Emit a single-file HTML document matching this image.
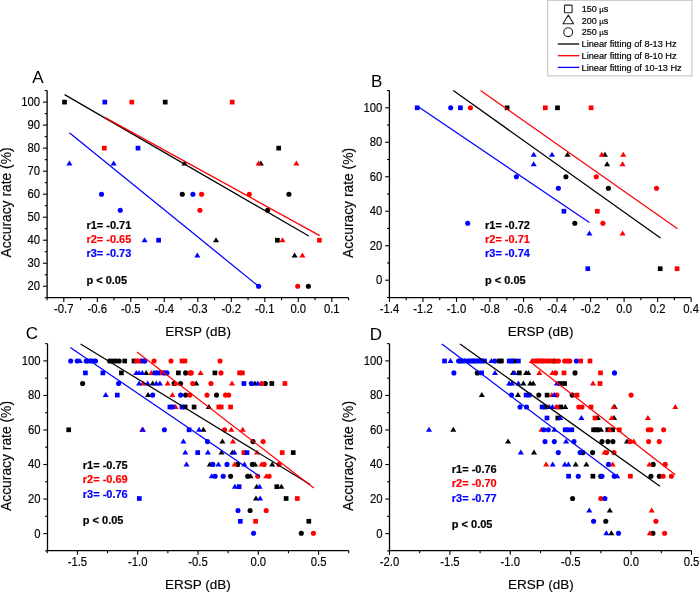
<!DOCTYPE html>
<html><head><meta charset="utf-8"><style>
html,body{margin:0;padding:0;background:#fff;}
svg{display:block;will-change:transform;}
text{font-family:"Liberation Sans", sans-serif;}
.t{font-size:11.6px;fill:#000;stroke:#000;stroke-width:0.15px;}
.L{font-size:17px;fill:#000;}
.T{font-size:13.85px;fill:#000;stroke:#000;stroke-width:0.15px;}
.S{font-size:11px;font-weight:bold;stroke-width:0.2px;}
.G{font-size:9.2px;fill:#000;stroke:#000;stroke-width:0.2px;}
</style></head><body>
<svg width="700" height="592" viewBox="0 0 700 592">
<rect width="700" height="592" fill="#fff"/>
<rect x="62.15" y="99.75" width="4.7" height="4.7" fill="#000"/>
<rect x="162.85" y="99.75" width="4.7" height="4.7" fill="#000"/>
<rect x="276.35" y="145.79" width="4.7" height="4.7" fill="#000"/>
<path d="M184.50 160.49L187.55 165.49H181.45Z" fill="#000"/>
<path d="M260.80 160.49L263.85 165.49H257.75Z" fill="#000"/>
<circle cx="182.30" cy="194.18" r="2.55" fill="#000"/>
<circle cx="288.90" cy="194.18" r="2.55" fill="#000"/>
<circle cx="267.60" cy="210.29" r="2.55" fill="#000"/>
<path d="M216.00 237.22L219.05 242.22H212.95Z" fill="#000"/>
<rect x="275.05" y="237.87" width="4.7" height="4.7" fill="#000"/>
<path d="M294.60 252.57L297.65 257.57H291.55Z" fill="#000"/>
<circle cx="308.40" cy="286.26" r="2.55" fill="#000"/>
<rect x="129.45" y="99.75" width="4.7" height="4.7" fill="#f00"/>
<rect x="229.85" y="99.75" width="4.7" height="4.7" fill="#f00"/>
<rect x="101.95" y="145.79" width="4.7" height="4.7" fill="#f00"/>
<path d="M258.60 160.49L261.65 165.49H255.55Z" fill="#f00"/>
<path d="M296.40 160.49L299.45 165.49H293.35Z" fill="#f00"/>
<circle cx="201.60" cy="194.18" r="2.55" fill="#f00"/>
<circle cx="249.30" cy="194.18" r="2.55" fill="#f00"/>
<circle cx="199.90" cy="210.29" r="2.55" fill="#f00"/>
<path d="M282.50 237.22L285.55 242.22H279.45Z" fill="#f00"/>
<rect x="317.05" y="237.87" width="4.7" height="4.7" fill="#f00"/>
<path d="M302.40 252.57L305.45 257.57H299.35Z" fill="#f00"/>
<circle cx="297.70" cy="286.26" r="2.55" fill="#f00"/>
<rect x="102.45" y="99.75" width="4.7" height="4.7" fill="#00f"/>
<rect x="135.65" y="145.79" width="4.7" height="4.7" fill="#00f"/>
<path d="M69.40 160.49L72.45 165.49H66.35Z" fill="#00f"/>
<path d="M113.60 160.49L116.65 165.49H110.55Z" fill="#00f"/>
<circle cx="101.50" cy="194.18" r="2.55" fill="#00f"/>
<circle cx="192.90" cy="194.18" r="2.55" fill="#00f"/>
<circle cx="120.30" cy="210.29" r="2.55" fill="#00f"/>
<path d="M144.60 237.22L147.65 242.22H141.55Z" fill="#00f"/>
<rect x="156.25" y="237.87" width="4.7" height="4.7" fill="#00f"/>
<path d="M197.30 252.57L200.35 257.57H194.25Z" fill="#00f"/>
<circle cx="258.60" cy="286.26" r="2.55" fill="#00f"/>
<path d="M64.6 94.6L308.8 236.0" stroke="#000" stroke-width="1.25" fill="none"/>
<path d="M104.3 117.1L319.7 235.6" stroke="#f00" stroke-width="1.25" fill="none"/>
<path d="M69.4 132.7L258.6 286.3" stroke="#00f" stroke-width="1.25" fill="none"/>
<rect x="504.75" y="105.45" width="4.7" height="4.7" fill="#000"/>
<rect x="555.15" y="105.45" width="4.7" height="4.7" fill="#000"/>
<path d="M567.50 151.69L570.55 156.69H564.45Z" fill="#000"/>
<path d="M604.90 151.69L607.95 156.69H601.85Z" fill="#000"/>
<path d="M607.10 161.35L610.15 166.35H604.05Z" fill="#000"/>
<circle cx="565.90" cy="176.76" r="2.55" fill="#000"/>
<circle cx="608.40" cy="188.26" r="2.55" fill="#000"/>
<circle cx="574.80" cy="223.31" r="2.55" fill="#000"/>
<rect x="657.85" y="266.35" width="4.7" height="4.7" fill="#000"/>
<circle cx="470.40" cy="107.80" r="2.55" fill="#f00"/>
<rect x="542.95" y="105.45" width="4.7" height="4.7" fill="#f00"/>
<rect x="588.75" y="105.45" width="4.7" height="4.7" fill="#f00"/>
<path d="M601.80 151.69L604.85 156.69H598.75Z" fill="#f00"/>
<path d="M623.30 151.69L626.35 156.69H620.25Z" fill="#f00"/>
<path d="M622.60 161.35L625.65 166.35H619.55Z" fill="#f00"/>
<circle cx="596.20" cy="176.76" r="2.55" fill="#f00"/>
<circle cx="656.50" cy="188.26" r="2.55" fill="#f00"/>
<rect x="594.95" y="208.89" width="4.7" height="4.7" fill="#f00"/>
<circle cx="602.90" cy="223.31" r="2.55" fill="#f00"/>
<path d="M622.60 230.48L625.65 235.48H619.55Z" fill="#f00"/>
<rect x="674.75" y="266.35" width="4.7" height="4.7" fill="#f00"/>
<rect x="414.85" y="105.45" width="4.7" height="4.7" fill="#00f"/>
<circle cx="450.70" cy="107.80" r="2.55" fill="#00f"/>
<rect x="458.05" y="105.45" width="4.7" height="4.7" fill="#00f"/>
<path d="M533.70 151.69L536.75 156.69H530.65Z" fill="#00f"/>
<path d="M552.00 151.69L555.05 156.69H548.95Z" fill="#00f"/>
<path d="M533.70 161.35L536.75 166.35H530.65Z" fill="#00f"/>
<circle cx="516.40" cy="176.76" r="2.55" fill="#00f"/>
<circle cx="558.40" cy="188.26" r="2.55" fill="#00f"/>
<rect x="561.55" y="208.89" width="4.7" height="4.7" fill="#00f"/>
<circle cx="467.70" cy="223.31" r="2.55" fill="#00f"/>
<path d="M589.40 230.48L592.45 235.48H586.35Z" fill="#00f"/>
<rect x="585.45" y="266.35" width="4.7" height="4.7" fill="#00f"/>
<path d="M453.3 90.5L660.5 238.1" stroke="#000" stroke-width="1.25" fill="none"/>
<path d="M480.6 90.5L677.5 228.8" stroke="#f00" stroke-width="1.25" fill="none"/>
<path d="M417.2 106L589.4 222.6" stroke="#00f" stroke-width="1.25" fill="none"/>
<circle cx="109.60" cy="361.00" r="2.55" fill="#000"/>
<rect x="110.45" y="358.65" width="4.7" height="4.7" fill="#000"/>
<circle cx="116.00" cy="361.00" r="2.55" fill="#000"/>
<circle cx="119.20" cy="361.00" r="2.55" fill="#000"/>
<rect x="122.35" y="358.65" width="4.7" height="4.7" fill="#000"/>
<rect x="131.65" y="358.65" width="4.7" height="4.7" fill="#000"/>
<rect x="119.05" y="370.55" width="4.7" height="4.7" fill="#000"/>
<path d="M146.20 369.90L149.25 374.90H143.15Z" fill="#000"/>
<rect x="176.05" y="370.55" width="4.7" height="4.7" fill="#000"/>
<circle cx="185.60" cy="372.90" r="2.55" fill="#000"/>
<rect x="212.55" y="370.55" width="4.7" height="4.7" fill="#000"/>
<circle cx="82.60" cy="383.50" r="2.55" fill="#000"/>
<path d="M152.70 380.50L155.75 385.50H149.65Z" fill="#000"/>
<circle cx="174.10" cy="383.50" r="2.55" fill="#000"/>
<circle cx="180.60" cy="383.50" r="2.55" fill="#000"/>
<path d="M196.30 380.50L199.35 385.50H193.25Z" fill="#000"/>
<path d="M254.90 380.50L257.95 385.50H251.85Z" fill="#000"/>
<circle cx="265.30" cy="383.50" r="2.55" fill="#000"/>
<rect x="269.45" y="381.15" width="4.7" height="4.7" fill="#000"/>
<path d="M148.10 392.10L151.15 397.10H145.05Z" fill="#000"/>
<circle cx="185.60" cy="395.10" r="2.55" fill="#000"/>
<circle cx="216.50" cy="395.10" r="2.55" fill="#000"/>
<rect x="182.85" y="404.65" width="4.7" height="4.7" fill="#000"/>
<rect x="191.75" y="404.65" width="4.7" height="4.7" fill="#000"/>
<path d="M208.90 404.00L211.95 409.00H205.85Z" fill="#000"/>
<rect x="66.35" y="427.45" width="4.7" height="4.7" fill="#000"/>
<path d="M203.40 426.80L206.45 431.80H200.35Z" fill="#000"/>
<path d="M222.40 438.60L225.45 443.60H219.35Z" fill="#000"/>
<circle cx="253.00" cy="441.60" r="2.55" fill="#000"/>
<path d="M221.50 449.60L224.55 454.60H218.45Z" fill="#000"/>
<path d="M232.40 449.60L235.45 454.60H229.35Z" fill="#000"/>
<rect x="290.85" y="450.25" width="4.7" height="4.7" fill="#000"/>
<path d="M209.80 461.40L212.85 466.40H206.75Z" fill="#000"/>
<circle cx="237.70" cy="464.40" r="2.55" fill="#000"/>
<circle cx="252.40" cy="464.40" r="2.55" fill="#000"/>
<path d="M255.10 461.40L258.15 466.40H252.05Z" fill="#000"/>
<path d="M272.20 461.40L275.25 466.40H269.15Z" fill="#000"/>
<circle cx="230.60" cy="476.20" r="2.55" fill="#000"/>
<circle cx="247.70" cy="476.20" r="2.55" fill="#000"/>
<path d="M250.60 473.20L253.65 478.20H247.55Z" fill="#000"/>
<path d="M256.70 483.70L259.75 488.70H253.65Z" fill="#000"/>
<rect x="274.45" y="484.35" width="4.7" height="4.7" fill="#000"/>
<path d="M281.40 483.70L284.45 488.70H278.35Z" fill="#000"/>
<path d="M256.00 495.50L259.05 500.50H252.95Z" fill="#000"/>
<rect x="283.75" y="496.15" width="4.7" height="4.7" fill="#000"/>
<circle cx="250.10" cy="510.50" r="2.55" fill="#000"/>
<rect x="306.45" y="518.95" width="4.7" height="4.7" fill="#000"/>
<circle cx="301.30" cy="533.30" r="2.55" fill="#000"/>
<rect x="134.25" y="358.65" width="4.7" height="4.7" fill="#f00"/>
<rect x="137.45" y="358.65" width="4.7" height="4.7" fill="#f00"/>
<circle cx="154.10" cy="361.00" r="2.55" fill="#f00"/>
<circle cx="171.00" cy="361.00" r="2.55" fill="#f00"/>
<rect x="179.65" y="358.65" width="4.7" height="4.7" fill="#f00"/>
<rect x="182.55" y="358.65" width="4.7" height="4.7" fill="#f00"/>
<circle cx="220.10" cy="361.00" r="2.55" fill="#f00"/>
<path d="M151.30 369.90L154.35 374.90H148.25Z" fill="#f00"/>
<rect x="158.95" y="370.55" width="4.7" height="4.7" fill="#f00"/>
<circle cx="189.90" cy="372.90" r="2.55" fill="#f00"/>
<circle cx="191.30" cy="372.90" r="2.55" fill="#f00"/>
<path d="M200.60 369.90L203.65 374.90H197.55Z" fill="#f00"/>
<circle cx="221.00" cy="372.90" r="2.55" fill="#f00"/>
<rect x="237.25" y="370.55" width="4.7" height="4.7" fill="#f00"/>
<rect x="240.05" y="370.55" width="4.7" height="4.7" fill="#f00"/>
<path d="M143.00 380.50L146.05 385.50H139.95Z" fill="#f00"/>
<path d="M167.70 380.50L170.75 385.50H164.65Z" fill="#f00"/>
<path d="M175.60 380.50L178.65 385.50H172.55Z" fill="#f00"/>
<circle cx="192.70" cy="383.50" r="2.55" fill="#f00"/>
<circle cx="211.00" cy="383.50" r="2.55" fill="#f00"/>
<path d="M232.00 380.50L235.05 385.50H228.95Z" fill="#f00"/>
<circle cx="261.70" cy="383.50" r="2.55" fill="#f00"/>
<rect x="282.55" y="381.15" width="4.7" height="4.7" fill="#f00"/>
<path d="M172.40 392.10L175.45 397.10H169.35Z" fill="#f00"/>
<circle cx="189.90" cy="395.10" r="2.55" fill="#f00"/>
<circle cx="207.00" cy="395.10" r="2.55" fill="#f00"/>
<circle cx="225.50" cy="395.10" r="2.55" fill="#f00"/>
<circle cx="228.70" cy="395.10" r="2.55" fill="#f00"/>
<path d="M175.60 404.00L178.65 409.00H172.55Z" fill="#f00"/>
<rect x="216.45" y="404.65" width="4.7" height="4.7" fill="#f00"/>
<rect x="218.85" y="404.65" width="4.7" height="4.7" fill="#f00"/>
<rect x="228.25" y="404.65" width="4.7" height="4.7" fill="#f00"/>
<path d="M142.20 426.80L145.25 431.80H139.15Z" fill="#f00"/>
<circle cx="224.60" cy="429.80" r="2.55" fill="#f00"/>
<path d="M231.30 426.80L234.35 431.80H228.25Z" fill="#f00"/>
<path d="M242.70 426.80L245.75 431.80H239.65Z" fill="#f00"/>
<path d="M233.00 438.60L236.05 443.60H229.95Z" fill="#f00"/>
<circle cx="263.10" cy="441.60" r="2.55" fill="#f00"/>
<rect x="241.55" y="450.25" width="4.7" height="4.7" fill="#f00"/>
<path d="M257.00 449.60L260.05 454.60H253.95Z" fill="#f00"/>
<rect x="279.85" y="450.25" width="4.7" height="4.7" fill="#f00"/>
<path d="M234.60 461.40L237.65 466.40H231.55Z" fill="#f00"/>
<path d="M261.50 461.40L264.55 466.40H258.45Z" fill="#f00"/>
<circle cx="264.20" cy="464.40" r="2.55" fill="#f00"/>
<circle cx="279.00" cy="464.40" r="2.55" fill="#f00"/>
<circle cx="257.70" cy="476.20" r="2.55" fill="#f00"/>
<path d="M266.30 473.20L269.35 478.20H263.25Z" fill="#f00"/>
<circle cx="269.10" cy="476.20" r="2.55" fill="#f00"/>
<rect x="294.95" y="496.15" width="4.7" height="4.7" fill="#f00"/>
<circle cx="266.20" cy="510.50" r="2.55" fill="#f00"/>
<rect x="253.25" y="518.95" width="4.7" height="4.7" fill="#f00"/>
<circle cx="313.40" cy="533.30" r="2.55" fill="#f00"/>
<circle cx="70.70" cy="361.00" r="2.55" fill="#00f"/>
<circle cx="77.20" cy="361.00" r="2.55" fill="#00f"/>
<path d="M79.90 358.00L82.95 363.00H76.85Z" fill="#00f"/>
<circle cx="86.20" cy="361.00" r="2.55" fill="#00f"/>
<rect x="86.65" y="358.65" width="4.7" height="4.7" fill="#00f"/>
<rect x="89.85" y="358.65" width="4.7" height="4.7" fill="#00f"/>
<circle cx="95.50" cy="361.00" r="2.55" fill="#00f"/>
<rect x="140.35" y="358.65" width="4.7" height="4.7" fill="#00f"/>
<circle cx="144.90" cy="361.00" r="2.55" fill="#00f"/>
<rect x="83.05" y="370.55" width="4.7" height="4.7" fill="#00f"/>
<rect x="100.55" y="370.55" width="4.7" height="4.7" fill="#00f"/>
<path d="M136.30 369.90L139.35 374.90H133.25Z" fill="#00f"/>
<path d="M139.10 369.90L142.15 374.90H136.05Z" fill="#00f"/>
<path d="M142.30 369.90L145.35 374.90H139.25Z" fill="#00f"/>
<rect x="152.55" y="370.55" width="4.7" height="4.7" fill="#00f"/>
<rect x="155.35" y="370.55" width="4.7" height="4.7" fill="#00f"/>
<circle cx="164.10" cy="372.90" r="2.55" fill="#00f"/>
<circle cx="167.00" cy="372.90" r="2.55" fill="#00f"/>
<circle cx="118.60" cy="383.50" r="2.55" fill="#00f"/>
<path d="M139.10 380.50L142.15 385.50H136.05Z" fill="#00f"/>
<path d="M147.70 380.50L150.75 385.50H144.65Z" fill="#00f"/>
<path d="M156.30 380.50L159.35 385.50H153.25Z" fill="#00f"/>
<path d="M159.90 380.50L162.95 385.50H156.85Z" fill="#00f"/>
<rect x="241.55" y="381.15" width="4.7" height="4.7" fill="#00f"/>
<circle cx="251.30" cy="383.50" r="2.55" fill="#00f"/>
<path d="M257.70 380.50L260.75 385.50H254.65Z" fill="#00f"/>
<path d="M105.70 392.10L108.75 397.10H102.65Z" fill="#00f"/>
<rect x="114.95" y="392.75" width="4.7" height="4.7" fill="#00f"/>
<circle cx="152.70" cy="395.10" r="2.55" fill="#00f"/>
<circle cx="180.60" cy="395.10" r="2.55" fill="#00f"/>
<rect x="167.55" y="404.65" width="4.7" height="4.7" fill="#00f"/>
<rect x="170.35" y="404.65" width="4.7" height="4.7" fill="#00f"/>
<rect x="179.65" y="404.65" width="4.7" height="4.7" fill="#00f"/>
<path d="M142.90 426.80L145.95 431.80H139.85Z" fill="#00f"/>
<circle cx="164.40" cy="429.80" r="2.55" fill="#00f"/>
<rect x="186.75" y="427.45" width="4.7" height="4.7" fill="#00f"/>
<path d="M199.10 426.80L202.15 431.80H196.05Z" fill="#00f"/>
<path d="M183.40 438.60L186.45 443.60H180.35Z" fill="#00f"/>
<circle cx="207.50" cy="441.60" r="2.55" fill="#00f"/>
<path d="M185.30 449.60L188.35 454.60H182.25Z" fill="#00f"/>
<rect x="195.35" y="450.25" width="4.7" height="4.7" fill="#00f"/>
<path d="M207.90 449.60L210.95 454.60H204.85Z" fill="#00f"/>
<path d="M234.40 449.60L237.45 454.60H231.35Z" fill="#00f"/>
<rect x="244.65" y="450.25" width="4.7" height="4.7" fill="#00f"/>
<path d="M186.50 461.40L189.55 466.40H183.45Z" fill="#00f"/>
<circle cx="212.80" cy="464.40" r="2.55" fill="#00f"/>
<path d="M218.40 461.40L221.45 466.40H215.35Z" fill="#00f"/>
<circle cx="227.00" cy="464.40" r="2.55" fill="#00f"/>
<path d="M244.40 461.40L247.45 466.40H241.35Z" fill="#00f"/>
<path d="M211.80 473.20L214.85 478.20H208.75Z" fill="#00f"/>
<circle cx="215.10" cy="476.20" r="2.55" fill="#00f"/>
<circle cx="223.20" cy="476.20" r="2.55" fill="#00f"/>
<path d="M234.90 483.70L237.95 488.70H231.85Z" fill="#00f"/>
<rect x="236.75" y="484.35" width="4.7" height="4.7" fill="#00f"/>
<path d="M259.60 483.70L262.65 488.70H256.55Z" fill="#00f"/>
<rect x="136.95" y="496.15" width="4.7" height="4.7" fill="#00f"/>
<path d="M260.10 495.50L263.15 500.50H257.05Z" fill="#00f"/>
<circle cx="238.00" cy="510.50" r="2.55" fill="#00f"/>
<rect x="237.95" y="518.95" width="4.7" height="4.7" fill="#00f"/>
<circle cx="253.60" cy="533.30" r="2.55" fill="#00f"/>
<path d="M80.6 344L310.2 484.5" stroke="#000" stroke-width="1.25" fill="none"/>
<path d="M137 352L313.8 488" stroke="#f00" stroke-width="1.25" fill="none"/>
<path d="M70.3 347.4L259.9 476.4" stroke="#00f" stroke-width="1.25" fill="none"/>
<rect x="496.75" y="358.65" width="4.7" height="4.7" fill="#000"/>
<rect x="499.05" y="358.65" width="4.7" height="4.7" fill="#000"/>
<rect x="511.65" y="358.65" width="4.7" height="4.7" fill="#000"/>
<circle cx="553.90" cy="361.00" r="2.55" fill="#000"/>
<circle cx="477.30" cy="372.90" r="2.55" fill="#000"/>
<path d="M513.00 369.90L516.05 374.90H509.95Z" fill="#000"/>
<rect x="516.95" y="370.55" width="4.7" height="4.7" fill="#000"/>
<path d="M526.10 369.90L529.15 374.90H523.05Z" fill="#000"/>
<path d="M528.30 369.90L531.35 374.90H525.25Z" fill="#000"/>
<circle cx="575.00" cy="372.90" r="2.55" fill="#000"/>
<path d="M523.40 380.50L526.45 385.50H520.35Z" fill="#000"/>
<path d="M530.20 380.50L533.25 385.50H527.15Z" fill="#000"/>
<path d="M533.20 380.50L536.25 385.50H530.15Z" fill="#000"/>
<rect x="557.95" y="381.15" width="4.7" height="4.7" fill="#000"/>
<rect x="562.25" y="381.15" width="4.7" height="4.7" fill="#000"/>
<path d="M481.80 392.10L484.85 397.10H478.75Z" fill="#000"/>
<path d="M518.00 392.10L521.05 397.10H514.95Z" fill="#000"/>
<circle cx="538.80" cy="395.10" r="2.55" fill="#000"/>
<rect x="544.75" y="392.75" width="4.7" height="4.7" fill="#000"/>
<circle cx="572.20" cy="395.10" r="2.55" fill="#000"/>
<rect x="542.95" y="404.65" width="4.7" height="4.7" fill="#000"/>
<rect x="558.45" y="404.65" width="4.7" height="4.7" fill="#000"/>
<path d="M565.30 404.00L568.35 409.00H562.25Z" fill="#000"/>
<path d="M614.70 404.00L617.75 409.00H611.65Z" fill="#000"/>
<rect x="555.45" y="415.65" width="4.7" height="4.7" fill="#000"/>
<path d="M597.80 415.00L600.85 420.00H594.75Z" fill="#000"/>
<path d="M614.10 415.00L617.15 420.00H611.05Z" fill="#000"/>
<path d="M453.30 426.80L456.35 431.80H450.25Z" fill="#000"/>
<rect x="591.25" y="427.45" width="4.7" height="4.7" fill="#000"/>
<rect x="593.95" y="427.45" width="4.7" height="4.7" fill="#000"/>
<circle cx="598.30" cy="429.80" r="2.55" fill="#000"/>
<path d="M601.00 426.80L604.05 431.80H597.95Z" fill="#000"/>
<rect x="605.45" y="427.45" width="4.7" height="4.7" fill="#000"/>
<rect x="610.25" y="427.45" width="4.7" height="4.7" fill="#000"/>
<path d="M508.10 438.60L511.15 443.60H505.05Z" fill="#000"/>
<circle cx="602.00" cy="441.60" r="2.55" fill="#000"/>
<circle cx="607.90" cy="441.60" r="2.55" fill="#000"/>
<circle cx="612.90" cy="441.60" r="2.55" fill="#000"/>
<path d="M627.00 438.60L630.05 443.60H623.95Z" fill="#000"/>
<path d="M534.00 449.60L537.05 454.60H530.95Z" fill="#000"/>
<circle cx="583.00" cy="452.60" r="2.55" fill="#000"/>
<circle cx="592.60" cy="452.60" r="2.55" fill="#000"/>
<path d="M575.70 461.40L578.75 466.40H572.65Z" fill="#000"/>
<path d="M586.40 461.40L589.45 466.40H583.35Z" fill="#000"/>
<circle cx="653.20" cy="464.40" r="2.55" fill="#000"/>
<rect x="590.55" y="473.85" width="4.7" height="4.7" fill="#000"/>
<circle cx="600.70" cy="476.20" r="2.55" fill="#000"/>
<circle cx="650.90" cy="476.20" r="2.55" fill="#000"/>
<circle cx="659.30" cy="476.20" r="2.55" fill="#000"/>
<circle cx="572.60" cy="498.50" r="2.55" fill="#000"/>
<path d="M609.80 507.50L612.85 512.50H606.75Z" fill="#000"/>
<circle cx="605.80" cy="521.30" r="2.55" fill="#000"/>
<path d="M611.40 530.30L614.45 535.30H608.35Z" fill="#000"/>
<circle cx="652.90" cy="533.30" r="2.55" fill="#000"/>
<path d="M531.90 358.00L534.95 363.00H528.85Z" fill="#f00"/>
<rect x="532.05" y="358.65" width="4.7" height="4.7" fill="#f00"/>
<rect x="534.65" y="358.65" width="4.7" height="4.7" fill="#f00"/>
<rect x="537.25" y="358.65" width="4.7" height="4.7" fill="#f00"/>
<rect x="539.75" y="358.65" width="4.7" height="4.7" fill="#f00"/>
<rect x="542.35" y="358.65" width="4.7" height="4.7" fill="#f00"/>
<rect x="545.55" y="358.65" width="4.7" height="4.7" fill="#f00"/>
<rect x="548.25" y="358.65" width="4.7" height="4.7" fill="#f00"/>
<circle cx="555.80" cy="361.00" r="2.55" fill="#f00"/>
<circle cx="558.50" cy="361.00" r="2.55" fill="#f00"/>
<circle cx="564.60" cy="361.00" r="2.55" fill="#f00"/>
<circle cx="567.40" cy="361.00" r="2.55" fill="#f00"/>
<circle cx="569.80" cy="361.00" r="2.55" fill="#f00"/>
<rect x="578.35" y="358.65" width="4.7" height="4.7" fill="#f00"/>
<rect x="587.65" y="358.65" width="4.7" height="4.7" fill="#f00"/>
<path d="M539.30 369.90L542.35 374.90H536.25Z" fill="#f00"/>
<path d="M552.40 369.90L555.45 374.90H549.35Z" fill="#f00"/>
<circle cx="555.60" cy="372.90" r="2.55" fill="#f00"/>
<rect x="561.65" y="370.55" width="4.7" height="4.7" fill="#f00"/>
<rect x="598.15" y="370.55" width="4.7" height="4.7" fill="#f00"/>
<path d="M593.00 380.50L596.05 385.50H589.95Z" fill="#f00"/>
<rect x="597.65" y="381.15" width="4.7" height="4.7" fill="#f00"/>
<path d="M551.80 392.10L554.85 397.10H548.75Z" fill="#f00"/>
<circle cx="556.90" cy="395.10" r="2.55" fill="#f00"/>
<rect x="574.65" y="392.75" width="4.7" height="4.7" fill="#f00"/>
<circle cx="631.10" cy="395.10" r="2.55" fill="#f00"/>
<circle cx="556.90" cy="407.00" r="2.55" fill="#f00"/>
<circle cx="578.80" cy="407.00" r="2.55" fill="#f00"/>
<circle cx="582.00" cy="407.00" r="2.55" fill="#f00"/>
<rect x="588.65" y="404.65" width="4.7" height="4.7" fill="#f00"/>
<path d="M613.60 404.00L616.65 409.00H610.55Z" fill="#f00"/>
<path d="M675.30 404.00L678.35 409.00H672.25Z" fill="#f00"/>
<rect x="592.65" y="415.65" width="4.7" height="4.7" fill="#f00"/>
<path d="M611.80 415.00L614.85 420.00H608.75Z" fill="#f00"/>
<path d="M647.90 415.00L650.95 420.00H644.85Z" fill="#f00"/>
<path d="M541.50 426.80L544.55 431.80H538.45Z" fill="#f00"/>
<path d="M609.70 426.80L612.75 431.80H606.65Z" fill="#f00"/>
<rect x="616.95" y="427.45" width="4.7" height="4.7" fill="#f00"/>
<circle cx="648.30" cy="429.80" r="2.55" fill="#f00"/>
<circle cx="651.00" cy="429.80" r="2.55" fill="#f00"/>
<circle cx="663.60" cy="429.80" r="2.55" fill="#f00"/>
<circle cx="630.00" cy="441.60" r="2.55" fill="#f00"/>
<path d="M633.80 438.60L636.85 443.60H630.75Z" fill="#f00"/>
<circle cx="648.60" cy="441.60" r="2.55" fill="#f00"/>
<circle cx="659.30" cy="441.60" r="2.55" fill="#f00"/>
<path d="M604.50 449.60L607.55 454.60H601.45Z" fill="#f00"/>
<circle cx="606.60" cy="452.60" r="2.55" fill="#f00"/>
<circle cx="614.00" cy="452.60" r="2.55" fill="#f00"/>
<path d="M546.20 461.40L549.25 466.40H543.15Z" fill="#f00"/>
<path d="M612.70 461.40L615.75 466.40H609.65Z" fill="#f00"/>
<path d="M649.40 461.40L652.45 466.40H646.35Z" fill="#f00"/>
<circle cx="665.20" cy="464.40" r="2.55" fill="#f00"/>
<rect x="628.05" y="473.85" width="4.7" height="4.7" fill="#f00"/>
<circle cx="663.10" cy="476.20" r="2.55" fill="#f00"/>
<circle cx="671.40" cy="476.20" r="2.55" fill="#f00"/>
<circle cx="600.80" cy="498.50" r="2.55" fill="#f00"/>
<path d="M651.70 507.50L654.75 512.50H648.65Z" fill="#f00"/>
<circle cx="655.90" cy="521.30" r="2.55" fill="#f00"/>
<path d="M649.80 530.30L652.85 535.30H646.75Z" fill="#f00"/>
<circle cx="664.60" cy="533.30" r="2.55" fill="#f00"/>
<rect x="442.15" y="358.65" width="4.7" height="4.7" fill="#00f"/>
<path d="M450.50 358.00L453.55 363.00H447.45Z" fill="#00f"/>
<circle cx="458.60" cy="361.00" r="2.55" fill="#00f"/>
<rect x="458.45" y="358.65" width="4.7" height="4.7" fill="#00f"/>
<rect x="460.15" y="358.65" width="4.7" height="4.7" fill="#00f"/>
<path d="M464.50 358.00L467.55 363.00H461.45Z" fill="#00f"/>
<rect x="464.65" y="358.65" width="4.7" height="4.7" fill="#00f"/>
<rect x="467.15" y="358.65" width="4.7" height="4.7" fill="#00f"/>
<rect x="469.65" y="358.65" width="4.7" height="4.7" fill="#00f"/>
<rect x="472.15" y="358.65" width="4.7" height="4.7" fill="#00f"/>
<rect x="474.65" y="358.65" width="4.7" height="4.7" fill="#00f"/>
<rect x="477.15" y="358.65" width="4.7" height="4.7" fill="#00f"/>
<rect x="479.65" y="358.65" width="4.7" height="4.7" fill="#00f"/>
<rect x="482.15" y="358.65" width="4.7" height="4.7" fill="#00f"/>
<path d="M491.40 358.00L494.45 363.00H488.35Z" fill="#00f"/>
<circle cx="494.60" cy="361.00" r="2.55" fill="#00f"/>
<rect x="506.85" y="358.65" width="4.7" height="4.7" fill="#00f"/>
<rect x="509.15" y="358.65" width="4.7" height="4.7" fill="#00f"/>
<rect x="516.05" y="358.65" width="4.7" height="4.7" fill="#00f"/>
<circle cx="576.30" cy="361.00" r="2.55" fill="#00f"/>
<circle cx="453.90" cy="372.90" r="2.55" fill="#00f"/>
<rect x="479.25" y="370.55" width="4.7" height="4.7" fill="#00f"/>
<path d="M495.00 369.90L498.05 374.90H491.95Z" fill="#00f"/>
<path d="M514.60 369.90L517.65 374.90H511.55Z" fill="#00f"/>
<circle cx="614.50" cy="372.90" r="2.55" fill="#00f"/>
<path d="M509.20 380.50L512.25 385.50H506.15Z" fill="#00f"/>
<path d="M511.90 380.50L514.95 385.50H508.85Z" fill="#00f"/>
<path d="M518.40 380.50L521.45 385.50H515.35Z" fill="#00f"/>
<path d="M556.90 380.50L559.95 385.50H553.85Z" fill="#00f"/>
<circle cx="511.50" cy="395.10" r="2.55" fill="#00f"/>
<rect x="523.75" y="392.75" width="4.7" height="4.7" fill="#00f"/>
<rect x="526.85" y="392.75" width="4.7" height="4.7" fill="#00f"/>
<path d="M554.30 392.10L557.35 397.10H551.25Z" fill="#00f"/>
<circle cx="520.00" cy="407.00" r="2.55" fill="#00f"/>
<circle cx="526.50" cy="407.00" r="2.55" fill="#00f"/>
<rect x="539.75" y="404.65" width="4.7" height="4.7" fill="#00f"/>
<path d="M549.20 404.00L552.25 409.00H546.15Z" fill="#00f"/>
<path d="M552.40 404.00L555.45 409.00H549.35Z" fill="#00f"/>
<rect x="544.65" y="415.65" width="4.7" height="4.7" fill="#00f"/>
<path d="M560.10 415.00L563.15 420.00H557.05Z" fill="#00f"/>
<path d="M581.40 415.00L584.45 420.00H578.35Z" fill="#00f"/>
<path d="M429.00 426.80L432.05 431.80H425.95Z" fill="#00f"/>
<circle cx="543.70" cy="429.80" r="2.55" fill="#00f"/>
<circle cx="548.30" cy="429.80" r="2.55" fill="#00f"/>
<path d="M554.40 426.80L557.45 431.80H551.35Z" fill="#00f"/>
<rect x="562.85" y="427.45" width="4.7" height="4.7" fill="#00f"/>
<rect x="565.45" y="427.45" width="4.7" height="4.7" fill="#00f"/>
<rect x="569.45" y="427.45" width="4.7" height="4.7" fill="#00f"/>
<circle cx="545.00" cy="441.60" r="2.55" fill="#00f"/>
<circle cx="554.30" cy="441.60" r="2.55" fill="#00f"/>
<path d="M566.10 438.60L569.15 443.60H563.05Z" fill="#00f"/>
<circle cx="574.00" cy="441.60" r="2.55" fill="#00f"/>
<path d="M520.80 449.60L523.85 454.60H517.75Z" fill="#00f"/>
<circle cx="558.30" cy="452.60" r="2.55" fill="#00f"/>
<circle cx="580.10" cy="452.60" r="2.55" fill="#00f"/>
<path d="M552.70 461.40L555.75 466.40H549.65Z" fill="#00f"/>
<path d="M564.80 461.40L567.85 466.40H561.75Z" fill="#00f"/>
<path d="M568.40 461.40L571.45 466.40H565.35Z" fill="#00f"/>
<circle cx="608.50" cy="464.40" r="2.55" fill="#00f"/>
<rect x="566.25" y="473.85" width="4.7" height="4.7" fill="#00f"/>
<circle cx="578.30" cy="476.20" r="2.55" fill="#00f"/>
<circle cx="602.00" cy="476.20" r="2.55" fill="#00f"/>
<circle cx="614.20" cy="476.20" r="2.55" fill="#00f"/>
<path d="M617.10 473.20L620.15 478.20H614.05Z" fill="#00f"/>
<circle cx="604.90" cy="498.50" r="2.55" fill="#00f"/>
<path d="M589.30 507.50L592.35 512.50H586.25Z" fill="#00f"/>
<circle cx="593.60" cy="521.30" r="2.55" fill="#00f"/>
<path d="M606.40 530.30L609.45 535.30H603.35Z" fill="#00f"/>
<circle cx="618.50" cy="533.30" r="2.55" fill="#00f"/>
<path d="M460 344L660 486.2" stroke="#000" stroke-width="1.25" fill="none"/>
<path d="M530.4 362.1L675.2 474.8" stroke="#f00" stroke-width="1.25" fill="none"/>
<path d="M441.9 344L619 477.8" stroke="#00f" stroke-width="1.25" fill="none"/>
<path d="M47.10 90.59V297.70H348.55" fill="none" stroke="#000" stroke-width="1.3"/>
<path d="M47.10 297.77h-2.4" stroke="#000" stroke-width="1.1"/>
<path d="M47.10 274.75h-2.4" stroke="#000" stroke-width="1.1"/>
<path d="M47.10 251.73h-2.4" stroke="#000" stroke-width="1.1"/>
<path d="M47.10 228.71h-2.4" stroke="#000" stroke-width="1.1"/>
<path d="M47.10 205.69h-2.4" stroke="#000" stroke-width="1.1"/>
<path d="M47.10 182.67h-2.4" stroke="#000" stroke-width="1.1"/>
<path d="M47.10 159.65h-2.4" stroke="#000" stroke-width="1.1"/>
<path d="M47.10 136.63h-2.4" stroke="#000" stroke-width="1.1"/>
<path d="M47.10 113.61h-2.4" stroke="#000" stroke-width="1.1"/>
<path d="M47.10 90.59h-2.4" stroke="#000" stroke-width="1.1"/>
<path d="M47.10 286.26h-4.2" stroke="#000" stroke-width="1.1"/>
<text transform="translate(40.10 290.16) scale(0.975 1.13)" text-anchor="end" class="t">20</text>
<path d="M47.10 263.24h-4.2" stroke="#000" stroke-width="1.1"/>
<text transform="translate(40.10 267.14) scale(0.975 1.13)" text-anchor="end" class="t">30</text>
<path d="M47.10 240.22h-4.2" stroke="#000" stroke-width="1.1"/>
<text transform="translate(40.10 244.12) scale(0.975 1.13)" text-anchor="end" class="t">40</text>
<path d="M47.10 217.20h-4.2" stroke="#000" stroke-width="1.1"/>
<text transform="translate(40.10 221.10) scale(0.975 1.13)" text-anchor="end" class="t">50</text>
<path d="M47.10 194.18h-4.2" stroke="#000" stroke-width="1.1"/>
<text transform="translate(40.10 198.08) scale(0.975 1.13)" text-anchor="end" class="t">60</text>
<path d="M47.10 171.16h-4.2" stroke="#000" stroke-width="1.1"/>
<text transform="translate(40.10 175.06) scale(0.975 1.13)" text-anchor="end" class="t">70</text>
<path d="M47.10 148.14h-4.2" stroke="#000" stroke-width="1.1"/>
<text transform="translate(40.10 152.04) scale(0.975 1.13)" text-anchor="end" class="t">80</text>
<path d="M47.10 125.12h-4.2" stroke="#000" stroke-width="1.1"/>
<text transform="translate(40.10 129.02) scale(0.975 1.13)" text-anchor="end" class="t">90</text>
<path d="M47.10 102.10h-4.2" stroke="#000" stroke-width="1.1"/>
<text transform="translate(40.10 106.00) scale(0.975 1.13)" text-anchor="end" class="t">100</text>
<path d="M47.05 297.70v2.6" stroke="#000" stroke-width="1.1"/>
<path d="M80.55 297.70v2.6" stroke="#000" stroke-width="1.1"/>
<path d="M114.05 297.70v2.6" stroke="#000" stroke-width="1.1"/>
<path d="M147.55 297.70v2.6" stroke="#000" stroke-width="1.1"/>
<path d="M181.05 297.70v2.6" stroke="#000" stroke-width="1.1"/>
<path d="M214.55 297.70v2.6" stroke="#000" stroke-width="1.1"/>
<path d="M248.05 297.70v2.6" stroke="#000" stroke-width="1.1"/>
<path d="M281.55 297.70v2.6" stroke="#000" stroke-width="1.1"/>
<path d="M315.05 297.70v2.6" stroke="#000" stroke-width="1.1"/>
<path d="M348.55 297.70v2.6" stroke="#000" stroke-width="1.1"/>
<path d="M63.80 297.70v4.2" stroke="#000" stroke-width="1.1"/>
<text transform="translate(63.80 313.40) scale(0.975 1.13)" text-anchor="middle" class="t">-0.7</text>
<path d="M97.30 297.70v4.2" stroke="#000" stroke-width="1.1"/>
<text transform="translate(97.30 313.40) scale(0.975 1.13)" text-anchor="middle" class="t">-0.6</text>
<path d="M130.80 297.70v4.2" stroke="#000" stroke-width="1.1"/>
<text transform="translate(130.80 313.40) scale(0.975 1.13)" text-anchor="middle" class="t">-0.5</text>
<path d="M164.30 297.70v4.2" stroke="#000" stroke-width="1.1"/>
<text transform="translate(164.30 313.40) scale(0.975 1.13)" text-anchor="middle" class="t">-0.4</text>
<path d="M197.80 297.70v4.2" stroke="#000" stroke-width="1.1"/>
<text transform="translate(197.80 313.40) scale(0.975 1.13)" text-anchor="middle" class="t">-0.3</text>
<path d="M231.30 297.70v4.2" stroke="#000" stroke-width="1.1"/>
<text transform="translate(231.30 313.40) scale(0.975 1.13)" text-anchor="middle" class="t">-0.2</text>
<path d="M264.80 297.70v4.2" stroke="#000" stroke-width="1.1"/>
<text transform="translate(264.80 313.40) scale(0.975 1.13)" text-anchor="middle" class="t">-0.1</text>
<path d="M298.30 297.70v4.2" stroke="#000" stroke-width="1.1"/>
<text transform="translate(298.30 313.40) scale(0.975 1.13)" text-anchor="middle" class="t">0.0</text>
<path d="M331.80 297.70v4.2" stroke="#000" stroke-width="1.1"/>
<text transform="translate(331.80 313.40) scale(0.975 1.13)" text-anchor="middle" class="t">0.1</text>
<path d="M389.40 90.56V297.70H691.14" fill="none" stroke="#000" stroke-width="1.3"/>
<path d="M389.40 297.44h-2.4" stroke="#000" stroke-width="1.1"/>
<path d="M389.40 262.96h-2.4" stroke="#000" stroke-width="1.1"/>
<path d="M389.40 228.48h-2.4" stroke="#000" stroke-width="1.1"/>
<path d="M389.40 194.00h-2.4" stroke="#000" stroke-width="1.1"/>
<path d="M389.40 159.52h-2.4" stroke="#000" stroke-width="1.1"/>
<path d="M389.40 125.04h-2.4" stroke="#000" stroke-width="1.1"/>
<path d="M389.40 90.56h-2.4" stroke="#000" stroke-width="1.1"/>
<path d="M389.40 280.20h-4.2" stroke="#000" stroke-width="1.1"/>
<text transform="translate(382.40 284.10) scale(0.975 1.13)" text-anchor="end" class="t">0</text>
<path d="M389.40 245.72h-4.2" stroke="#000" stroke-width="1.1"/>
<text transform="translate(382.40 249.62) scale(0.975 1.13)" text-anchor="end" class="t">20</text>
<path d="M389.40 211.24h-4.2" stroke="#000" stroke-width="1.1"/>
<text transform="translate(382.40 215.14) scale(0.975 1.13)" text-anchor="end" class="t">40</text>
<path d="M389.40 176.76h-4.2" stroke="#000" stroke-width="1.1"/>
<text transform="translate(382.40 180.66) scale(0.975 1.13)" text-anchor="end" class="t">60</text>
<path d="M389.40 142.28h-4.2" stroke="#000" stroke-width="1.1"/>
<text transform="translate(382.40 146.18) scale(0.975 1.13)" text-anchor="end" class="t">80</text>
<path d="M389.40 107.80h-4.2" stroke="#000" stroke-width="1.1"/>
<text transform="translate(382.40 111.70) scale(0.975 1.13)" text-anchor="end" class="t">100</text>
<path d="M406.22 297.70v2.6" stroke="#000" stroke-width="1.1"/>
<path d="M439.74 297.70v2.6" stroke="#000" stroke-width="1.1"/>
<path d="M473.26 297.70v2.6" stroke="#000" stroke-width="1.1"/>
<path d="M506.78 297.70v2.6" stroke="#000" stroke-width="1.1"/>
<path d="M540.30 297.70v2.6" stroke="#000" stroke-width="1.1"/>
<path d="M573.82 297.70v2.6" stroke="#000" stroke-width="1.1"/>
<path d="M607.34 297.70v2.6" stroke="#000" stroke-width="1.1"/>
<path d="M640.86 297.70v2.6" stroke="#000" stroke-width="1.1"/>
<path d="M674.38 297.70v2.6" stroke="#000" stroke-width="1.1"/>
<path d="M389.46 297.70v4.2" stroke="#000" stroke-width="1.1"/>
<text transform="translate(389.46 313.40) scale(0.975 1.13)" text-anchor="middle" class="t">-1.4</text>
<path d="M422.98 297.70v4.2" stroke="#000" stroke-width="1.1"/>
<text transform="translate(422.98 313.40) scale(0.975 1.13)" text-anchor="middle" class="t">-1.2</text>
<path d="M456.50 297.70v4.2" stroke="#000" stroke-width="1.1"/>
<text transform="translate(456.50 313.40) scale(0.975 1.13)" text-anchor="middle" class="t">-1.0</text>
<path d="M490.02 297.70v4.2" stroke="#000" stroke-width="1.1"/>
<text transform="translate(490.02 313.40) scale(0.975 1.13)" text-anchor="middle" class="t">-0.8</text>
<path d="M523.54 297.70v4.2" stroke="#000" stroke-width="1.1"/>
<text transform="translate(523.54 313.40) scale(0.975 1.13)" text-anchor="middle" class="t">-0.6</text>
<path d="M557.06 297.70v4.2" stroke="#000" stroke-width="1.1"/>
<text transform="translate(557.06 313.40) scale(0.975 1.13)" text-anchor="middle" class="t">-0.4</text>
<path d="M590.58 297.70v4.2" stroke="#000" stroke-width="1.1"/>
<text transform="translate(590.58 313.40) scale(0.975 1.13)" text-anchor="middle" class="t">-0.2</text>
<path d="M624.10 297.70v4.2" stroke="#000" stroke-width="1.1"/>
<text transform="translate(624.10 313.40) scale(0.975 1.13)" text-anchor="middle" class="t">0.0</text>
<path d="M657.62 297.70v4.2" stroke="#000" stroke-width="1.1"/>
<text transform="translate(657.62 313.40) scale(0.975 1.13)" text-anchor="middle" class="t">0.2</text>
<path d="M691.14 297.70v4.2" stroke="#000" stroke-width="1.1"/>
<text transform="translate(691.14 313.40) scale(0.975 1.13)" text-anchor="middle" class="t">0.4</text>
<path d="M47.50 343.63V550.60H348.75" fill="none" stroke="#000" stroke-width="1.3"/>
<path d="M47.50 550.87h-2.4" stroke="#000" stroke-width="1.1"/>
<path d="M47.50 516.33h-2.4" stroke="#000" stroke-width="1.1"/>
<path d="M47.50 481.79h-2.4" stroke="#000" stroke-width="1.1"/>
<path d="M47.50 447.25h-2.4" stroke="#000" stroke-width="1.1"/>
<path d="M47.50 412.71h-2.4" stroke="#000" stroke-width="1.1"/>
<path d="M47.50 378.17h-2.4" stroke="#000" stroke-width="1.1"/>
<path d="M47.50 343.63h-2.4" stroke="#000" stroke-width="1.1"/>
<path d="M47.50 533.60h-4.2" stroke="#000" stroke-width="1.1"/>
<text transform="translate(40.50 537.50) scale(0.975 1.13)" text-anchor="end" class="t">0</text>
<path d="M47.50 499.06h-4.2" stroke="#000" stroke-width="1.1"/>
<text transform="translate(40.50 502.96) scale(0.975 1.13)" text-anchor="end" class="t">20</text>
<path d="M47.50 464.52h-4.2" stroke="#000" stroke-width="1.1"/>
<text transform="translate(40.50 468.42) scale(0.975 1.13)" text-anchor="end" class="t">40</text>
<path d="M47.50 429.98h-4.2" stroke="#000" stroke-width="1.1"/>
<text transform="translate(40.50 433.88) scale(0.975 1.13)" text-anchor="end" class="t">60</text>
<path d="M47.50 395.44h-4.2" stroke="#000" stroke-width="1.1"/>
<text transform="translate(40.50 399.34) scale(0.975 1.13)" text-anchor="end" class="t">80</text>
<path d="M47.50 360.90h-4.2" stroke="#000" stroke-width="1.1"/>
<text transform="translate(40.50 364.80) scale(0.975 1.13)" text-anchor="end" class="t">100</text>
<path d="M47.25 550.60v2.6" stroke="#000" stroke-width="1.1"/>
<path d="M107.55 550.60v2.6" stroke="#000" stroke-width="1.1"/>
<path d="M167.85 550.60v2.6" stroke="#000" stroke-width="1.1"/>
<path d="M228.15 550.60v2.6" stroke="#000" stroke-width="1.1"/>
<path d="M288.45 550.60v2.6" stroke="#000" stroke-width="1.1"/>
<path d="M348.75 550.60v2.6" stroke="#000" stroke-width="1.1"/>
<path d="M77.40 550.60v4.2" stroke="#000" stroke-width="1.1"/>
<text transform="translate(77.40 566.30) scale(0.975 1.13)" text-anchor="middle" class="t">-1.5</text>
<path d="M137.70 550.60v4.2" stroke="#000" stroke-width="1.1"/>
<text transform="translate(137.70 566.30) scale(0.975 1.13)" text-anchor="middle" class="t">-1.0</text>
<path d="M198.00 550.60v4.2" stroke="#000" stroke-width="1.1"/>
<text transform="translate(198.00 566.30) scale(0.975 1.13)" text-anchor="middle" class="t">-0.5</text>
<path d="M258.30 550.60v4.2" stroke="#000" stroke-width="1.1"/>
<text transform="translate(258.30 566.30) scale(0.975 1.13)" text-anchor="middle" class="t">0.0</text>
<path d="M318.60 550.60v4.2" stroke="#000" stroke-width="1.1"/>
<text transform="translate(318.60 566.30) scale(0.975 1.13)" text-anchor="middle" class="t">0.5</text>
<path d="M389.50 343.63V550.60H691.50" fill="none" stroke="#000" stroke-width="1.3"/>
<path d="M389.50 550.87h-2.4" stroke="#000" stroke-width="1.1"/>
<path d="M389.50 516.33h-2.4" stroke="#000" stroke-width="1.1"/>
<path d="M389.50 481.79h-2.4" stroke="#000" stroke-width="1.1"/>
<path d="M389.50 447.25h-2.4" stroke="#000" stroke-width="1.1"/>
<path d="M389.50 412.71h-2.4" stroke="#000" stroke-width="1.1"/>
<path d="M389.50 378.17h-2.4" stroke="#000" stroke-width="1.1"/>
<path d="M389.50 343.63h-2.4" stroke="#000" stroke-width="1.1"/>
<path d="M389.50 533.60h-4.2" stroke="#000" stroke-width="1.1"/>
<text transform="translate(382.50 537.50) scale(0.975 1.13)" text-anchor="end" class="t">0</text>
<path d="M389.50 499.06h-4.2" stroke="#000" stroke-width="1.1"/>
<text transform="translate(382.50 502.96) scale(0.975 1.13)" text-anchor="end" class="t">20</text>
<path d="M389.50 464.52h-4.2" stroke="#000" stroke-width="1.1"/>
<text transform="translate(382.50 468.42) scale(0.975 1.13)" text-anchor="end" class="t">40</text>
<path d="M389.50 429.98h-4.2" stroke="#000" stroke-width="1.1"/>
<text transform="translate(382.50 433.88) scale(0.975 1.13)" text-anchor="end" class="t">60</text>
<path d="M389.50 395.44h-4.2" stroke="#000" stroke-width="1.1"/>
<text transform="translate(382.50 399.34) scale(0.975 1.13)" text-anchor="end" class="t">80</text>
<path d="M389.50 360.90h-4.2" stroke="#000" stroke-width="1.1"/>
<text transform="translate(382.50 364.80) scale(0.975 1.13)" text-anchor="end" class="t">100</text>
<path d="M419.70 550.60v2.6" stroke="#000" stroke-width="1.1"/>
<path d="M480.10 550.60v2.6" stroke="#000" stroke-width="1.1"/>
<path d="M540.50 550.60v2.6" stroke="#000" stroke-width="1.1"/>
<path d="M600.90 550.60v2.6" stroke="#000" stroke-width="1.1"/>
<path d="M661.30 550.60v2.6" stroke="#000" stroke-width="1.1"/>
<path d="M389.50 550.60v4.2" stroke="#000" stroke-width="1.1"/>
<text transform="translate(389.50 566.30) scale(0.975 1.13)" text-anchor="middle" class="t">-2.0</text>
<path d="M449.90 550.60v4.2" stroke="#000" stroke-width="1.1"/>
<text transform="translate(449.90 566.30) scale(0.975 1.13)" text-anchor="middle" class="t">-1.5</text>
<path d="M510.30 550.60v4.2" stroke="#000" stroke-width="1.1"/>
<text transform="translate(510.30 566.30) scale(0.975 1.13)" text-anchor="middle" class="t">-1.0</text>
<path d="M570.70 550.60v4.2" stroke="#000" stroke-width="1.1"/>
<text transform="translate(570.70 566.30) scale(0.975 1.13)" text-anchor="middle" class="t">-0.5</text>
<path d="M631.10 550.60v4.2" stroke="#000" stroke-width="1.1"/>
<text transform="translate(631.10 566.30) scale(0.975 1.13)" text-anchor="middle" class="t">0.0</text>
<path d="M691.50 550.60v4.2" stroke="#000" stroke-width="1.1"/>
<text transform="translate(691.50 566.30) scale(0.975 1.13)" text-anchor="middle" class="t">0.5</text>
<text x="32.2" y="82.8" class="L">A</text>
<text x="371.0" y="86.6" class="L">B</text>
<text x="25.8" y="339.2" class="L">C</text>
<text x="369.8" y="339.6" class="L">D</text>
<text x="198.2" y="336.1" text-anchor="middle" class="T" style="font-size:13.5px">ERSP (dB)</text>
<text x="540.6" y="336.1" text-anchor="middle" class="T" style="font-size:13.5px">ERSP (dB)</text>
<text x="197.9" y="589.1" text-anchor="middle" class="T" style="font-size:13.5px">ERSP (dB)</text>
<text x="540.8" y="589.1" text-anchor="middle" class="T" style="font-size:13.5px">ERSP (dB)</text>
<text transform="translate(11.1 202.4) rotate(-90)" text-anchor="middle" class="T">Accuracy rate (%)</text>
<text transform="translate(353.2 202.9) rotate(-90)" text-anchor="middle" class="T">Accuracy rate (%)</text>
<text transform="translate(11.1 456.0) rotate(-90)" text-anchor="middle" class="T">Accuracy rate (%)</text>
<text transform="translate(353.2 456.0) rotate(-90)" text-anchor="middle" class="T">Accuracy rate (%)</text>
<text transform="translate(86.4 228.5) scale(1.0 1.03)" class="S" fill="#000" stroke="#000">r1= -0.71</text>
<text transform="translate(86.4 242.9) scale(1.0 1.03)" class="S" fill="#f00" stroke="#f00">r2= -0.65</text>
<text transform="translate(86.4 257.3) scale(1.0 1.03)" class="S" fill="#00f" stroke="#00f">r3= -0.73</text>
<text transform="translate(86.4 283.90000000000003) scale(1.0 1.03)" class="S" fill="#000" stroke="#000">p &lt; 0.05</text>
<text transform="translate(485.0 228.5) scale(1.0 1.03)" class="S" fill="#000" stroke="#000">r1= -0.72</text>
<text transform="translate(485.0 242.9) scale(1.0 1.03)" class="S" fill="#f00" stroke="#f00">r2= -0.71</text>
<text transform="translate(485.0 257.3) scale(1.0 1.03)" class="S" fill="#00f" stroke="#00f">r3= -0.74</text>
<text transform="translate(485.0 283.90000000000003) scale(1.0 1.03)" class="S" fill="#000" stroke="#000">p &lt; 0.05</text>
<text transform="translate(82.8 468.8) scale(1.0 1.03)" class="S" fill="#000" stroke="#000">r1= -0.75</text>
<text transform="translate(82.8 483.2) scale(1.0 1.03)" class="S" fill="#f00" stroke="#f00">r2= -0.69</text>
<text transform="translate(82.8 497.6) scale(1.0 1.03)" class="S" fill="#00f" stroke="#00f">r3= -0.76</text>
<text transform="translate(82.8 524.0999999999999) scale(1.0 1.03)" class="S" fill="#000" stroke="#000">p &lt; 0.05</text>
<text transform="translate(451.8 472.7) scale(1.0 1.03)" class="S" fill="#000" stroke="#000">r1= -0.76</text>
<text transform="translate(451.8 487.1) scale(1.0 1.03)" class="S" fill="#f00" stroke="#f00">r2= -0.70</text>
<text transform="translate(451.8 502.0) scale(1.0 1.03)" class="S" fill="#00f" stroke="#00f">r3= -0.77</text>
<text transform="translate(451.8 528.1999999999999) scale(1.0 1.03)" class="S" fill="#000" stroke="#000">p &lt; 0.05</text>
<rect x="547.7" y="0.3" width="144.2" height="75.6" fill="#fff" stroke="#c4c4c4" stroke-width="1.1"/>
<rect x="564.5" y="5.1" width="7.6" height="7.7" rx="0.8" fill="none" stroke="#222" stroke-width="1.1"/>
<path d="M568.3 15.1L573.6 23.7H563Z" fill="none" stroke="#222" stroke-width="1.1" stroke-linejoin="round"/>
<circle cx="568.2" cy="32.2" r="4.4" fill="none" stroke="#222" stroke-width="1.1"/>
<text x="581.8" y="12.1" class="G" style="font-size:9px">150 <tspan style="font-size:7.8px">&#181;</tspan>s</text>
<text x="581.8" y="23.5" class="G" style="font-size:9px">200 <tspan style="font-size:7.8px">&#181;</tspan>s</text>
<text x="581.8" y="34.9" class="G" style="font-size:9px">250 <tspan style="font-size:7.8px">&#181;</tspan>s</text>
<path d="M557.8 44.0H579.3" stroke="#000" stroke-width="1.3"/>
<text x="581.6" y="47.4" class="G">Linear fitting of 8-13 Hz</text>
<path d="M557.8 55.7H579.3" stroke="#f00" stroke-width="1.3"/>
<text x="581.6" y="59.1" class="G">Linear fitting of 8-10 Hz</text>
<path d="M557.8 67.4H579.3" stroke="#00f" stroke-width="1.3"/>
<text x="581.6" y="70.8" class="G">Linear fitting of 10-13 Hz</text>
</svg>
</body></html>
